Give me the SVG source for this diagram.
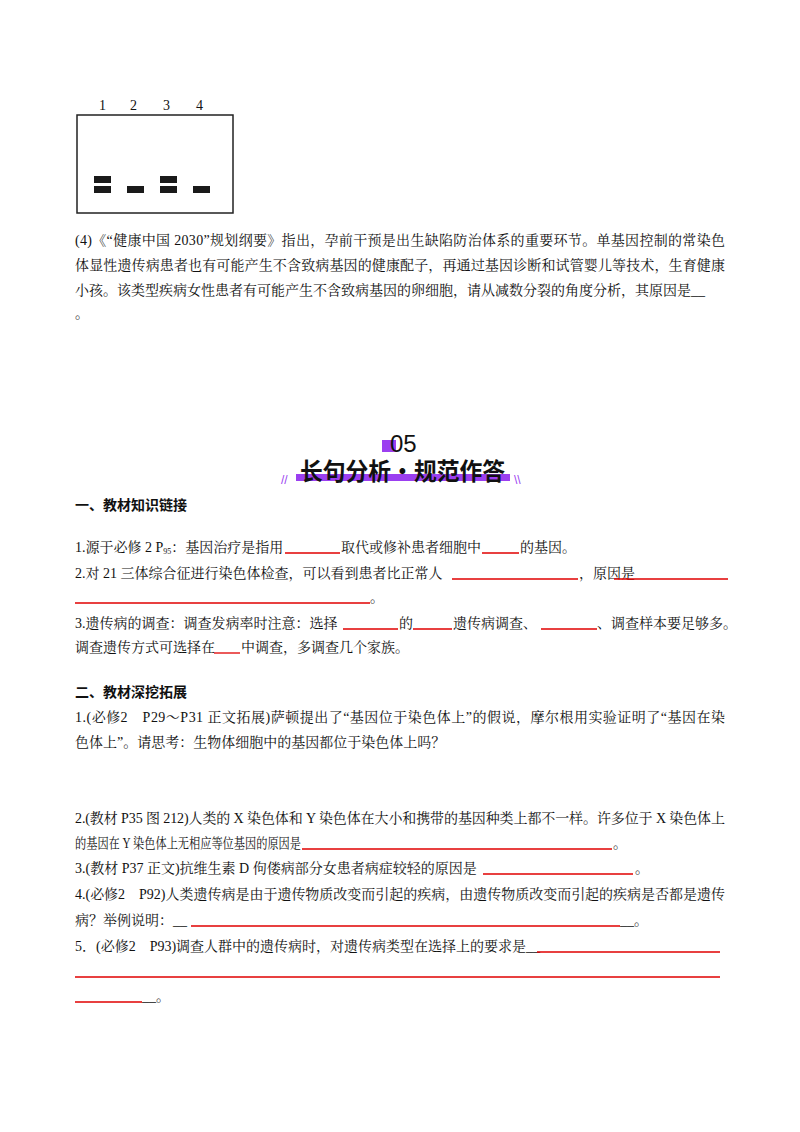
<svg xmlns="http://www.w3.org/2000/svg" width="800" height="1132" viewBox="0 0 800 1132">
<style>
text{font-family:"Liberation Serif","Noto Serif CJK SC","Noto Sans CJK SC",serif;font-size:14px;fill:#111}
.b{font-weight:bold}
.u{stroke:#e00000;stroke-width:1.3}
.band{fill:#1a1a1a}
</style>
<rect width="800" height="1132" fill="#fff"/>
<g id="gel">
<rect x="77" y="115" width="156" height="98" fill="none" stroke="#222" stroke-width="1.5"/>
<g style="font-size:18px">
<text x="99" y="110">1</text><text x="130" y="110">2</text><text x="163" y="110">3</text><text x="196" y="110">4</text>
</g>
<rect class="band" x="94" y="176" width="17" height="7"/><rect class="band" x="94" y="186" width="17" height="7"/>
<rect class="band" x="127" y="186" width="17" height="7"/>
<rect class="band" x="160" y="176" width="17" height="7"/><rect class="band" x="160" y="186" width="17" height="7"/>
<rect class="band" x="193" y="186" width="17" height="7"/>
</g>
<g id="q4">
<text x="75" y="245" textLength="650" lengthAdjust="spacing">(4)《“健康中国 2030”规划纲要》指出，孕前干预是出生缺陷防治体系的重要环节。单基因控制的常染色</text>
<text x="75" y="270" textLength="650" lengthAdjust="spacing">体显性遗传病患者也有可能产生不含致病基因的健康配子，再通过基因诊断和试管婴儿等技术，生育健康</text>
<text x="75" y="295">小孩。该类型疾病女性患者有可能产生不含致病基因的卵细胞，请从减数分裂的角度分析，其原因是__</text>
<text x="75" y="318">。</text>
</g>
<g id="header">
<rect x="382" y="440" width="14" height="12" fill="#9b3ff0"/>
<text x="390" y="452" style="font-family:'Liberation Sans',sans-serif;font-size:24px">05</text>
<rect x="296" y="474" width="214" height="7" fill="#9b3ff0"/>
<text x="300" y="480" class="b" style="font-family:'Noto Sans CJK SC',sans-serif;font-size:24px" textLength="205" lengthAdjust="spacingAndGlyphs">长句分析•规范作答</text>
<text x="281" y="484" style="fill:#9b3ff0;font-size:12px;font-family:'Liberation Sans',sans-serif">//</text>
<text x="514" y="484" style="fill:#9b3ff0;font-size:12px;font-family:'Liberation Sans',sans-serif">\\</text>
</g>
<g id="sec1">
<text x="75" y="510" class="b" style="font-family:'Noto Sans CJK SC',sans-serif">一、教材知识链接</text>
<text x="75" y="552">1.源于必修 2 P<tspan style="font-size:8px" dy="2">95</tspan><tspan dy="-2">：基因治疗是指用</tspan></text>
<line class="u" x1="285" y1="553" x2="340" y2="553"/>
<text x="341" y="552">取代或修补患者细胞中</text>
<line class="u" x1="482" y1="553" x2="519" y2="553"/>
<text x="520" y="552">的基因。</text>
<text x="75" y="578">2.对 21 三体综合征进行染色体检查，可以看到患者比正常人</text>
<line class="u" x1="452" y1="579" x2="578" y2="579"/>
<text x="579" y="578">，原因是</text>
<line class="u" x1="614" y1="579" x2="728" y2="579"/>
<line class="u" x1="75" y1="603" x2="370" y2="603"/>
<text x="370" y="602">。</text>
<text x="75" y="628">3.遗传病的调查：调查发病率时注意：选择</text>
<line class="u" x1="343" y1="629" x2="398" y2="629"/>
<text x="399" y="628">的</text>
<line class="u" x1="413" y1="629" x2="452" y2="629"/>
<text x="453" y="628">遗传病调查、</text>
<line class="u" x1="541" y1="629" x2="597" y2="629"/>
<text x="597" y="628">、调查样本要足够多。</text>
<text x="75" y="652">调查遗传方式可选择在</text>
<line class="u" x1="214" y1="653" x2="240" y2="653"/>
<text x="241" y="652">中调查，多调查几个家族。</text>
</g>
<g id="sec2">
<text x="75" y="697" class="b" style="font-family:'Noto Sans CJK SC',sans-serif">二、教材深挖拓展</text>
<text x="75" y="722" textLength="650" lengthAdjust="spacing">1.(必修2　P29～P31 正文拓展)萨顿提出了“基因位于染色体上”的假说，摩尔根用实验证明了“基因在染</text>
<text x="75" y="747">色体上”。请思考：生物体细胞中的基因都位于染色体上吗？</text>
<text x="75" y="823" textLength="650" lengthAdjust="spacing">2.(教材 P35 图 212)人类的 X 染色体和 Y 染色体在大小和携带的基因种类上都不一样。许多位于 X 染色体上</text>
<text x="75" y="848" textLength="226" lengthAdjust="spacingAndGlyphs">的基因在 Y 染色体上无相应等位基因的原因是</text>
<line class="u" x1="302" y1="849" x2="612" y2="849"/>
<text x="613" y="848">。</text>
<text x="75" y="873">3.(教材 P37 正文)抗维生素 D 佝偻病部分女患者病症较轻的原因是</text>
<line class="u" x1="483" y1="874" x2="633" y2="874"/>
<text x="635" y="873">。</text>
<text x="75" y="899" textLength="650" lengthAdjust="spacing">4.(必修2　P92)人类遗传病是由于遗传物质改变而引起的疾病，由遗传物质改变而引起的疾病是否都是遗传</text>
<text x="75" y="925">病？举例说明：__</text>
<line class="u" x1="191" y1="926" x2="620" y2="926"/>
<text x="620" y="925">__。</text>
<text x="75" y="951">5．(必修2　P93)调查人群中的遗传病时，对遗传病类型在选择上的要求是__</text>
<line class="u" x1="537" y1="952" x2="720" y2="952"/>
<line class="u" x1="75" y1="977" x2="720" y2="977"/>
<line class="u" x1="75" y1="1002" x2="142" y2="1002"/>
<text x="142" y="1001">__。</text>
</g>
</svg>
